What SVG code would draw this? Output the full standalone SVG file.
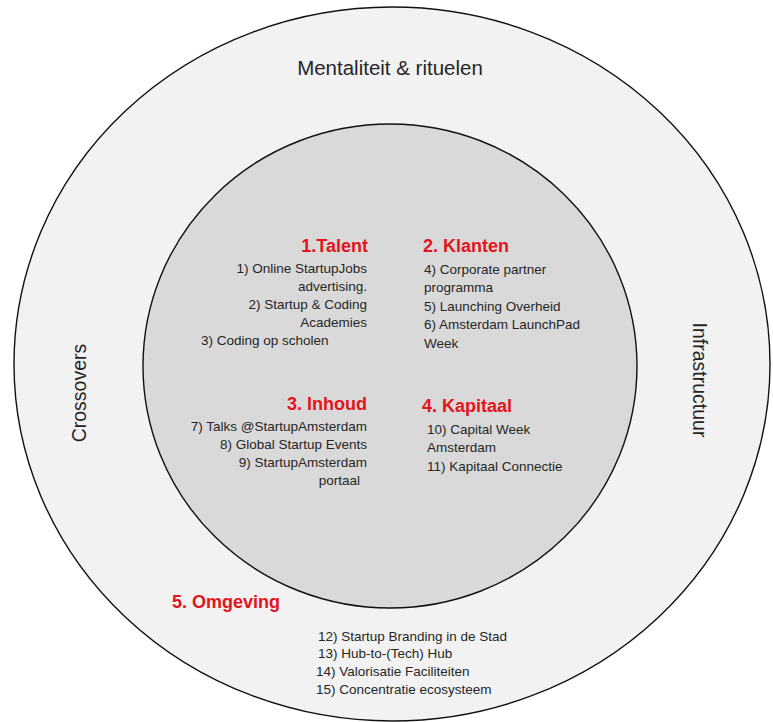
<svg xmlns="http://www.w3.org/2000/svg" width="773" height="722" viewBox="0 0 773 722">
<style>
  .ring { stroke: #111; stroke-width: 1.4; }
  .lbl { font-family: "Liberation Sans", Arial, sans-serif; font-size: 19.5px; fill: #262626; }
  .ttl { font-family: "Liberation Sans", Arial, sans-serif; font-size: 18px; font-weight: bold; fill: #e3141b; }
  .itm { font-family: "Liberation Sans", Arial, sans-serif; font-size: 13.5px; fill: #262626; }
  .end { text-anchor: end; }
</style>
<rect width="773" height="722" fill="#ffffff"/>
<g id="outer-ring">
  <ellipse class="ring" cx="392" cy="364" rx="378" ry="357" fill="#f2f2f2"/>
  <text class="lbl" x="390" y="75" text-anchor="middle" style="font-size:20.5px">Mentaliteit &amp; rituelen</text>
  <text class="lbl" transform="translate(86,393) rotate(-90)" text-anchor="middle">Crossovers</text>
  <text class="lbl" transform="translate(693,380) rotate(90)" text-anchor="middle">Infrastructuur</text>
</g>
<g id="inner-circle">
  <ellipse class="ring" cx="390" cy="366" rx="247" ry="242" fill="#d9d9d9"/>
</g>
<g id="connectors"></g>
<g id="talent">
  <text class="ttl end" x="368" y="252">1.Talent</text>
  <text class="itm end" x="367" y="273">1) Online StartupJobs</text>
  <text class="itm end" x="367" y="291">advertising.</text>
  <text class="itm end" x="367" y="309">2) Startup &amp; Coding</text>
  <text class="itm end" x="367" y="327">Academies</text>
  <text class="itm" x="201" y="345">3) Coding op scholen</text>
</g>
<g id="klanten">
  <text class="ttl" x="423" y="252">2. Klanten</text>
  <text class="itm" x="424" y="274">4) Corporate partner</text>
  <text class="itm" x="424" y="292">programma</text>
  <text class="itm" x="424" y="311">5) Launching Overheid</text>
  <text class="itm" x="424" y="329">6) Amsterdam LaunchPad</text>
  <text class="itm" x="424" y="348">Week</text>
</g>
<g id="inhoud">
  <text class="ttl end" x="367" y="410">3. Inhoud</text>
  <text class="itm end" x="367" y="431">7) Talks @StartupAmsterdam</text>
  <text class="itm end" x="367" y="449">8) Global Startup Events</text>
  <text class="itm end" x="367" y="467">9) StartupAmsterdam</text>
  <text class="itm end" x="360" y="485">portaal</text>
</g>
<g id="kapitaal">
  <text class="ttl" x="422" y="412">4. Kapitaal</text>
  <text class="itm" x="427" y="434">10) Capital Week</text>
  <text class="itm" x="427" y="452">Amsterdam</text>
  <text class="itm" x="427" y="471">11) Kapitaal Connectie</text>
</g>
<g id="omgeving">
  <text class="ttl" x="172" y="608">5. Omgeving</text>
  <text class="itm" x="318" y="641">12) Startup Branding in de Stad</text>
  <text class="itm" x="318" y="658">13) Hub-to-(Tech) Hub</text>
  <text class="itm" x="316" y="676">14) Valorisatie Faciliteiten</text>
  <text class="itm" x="316" y="694">15) Concentratie ecosysteem</text>
</g>
</svg>
